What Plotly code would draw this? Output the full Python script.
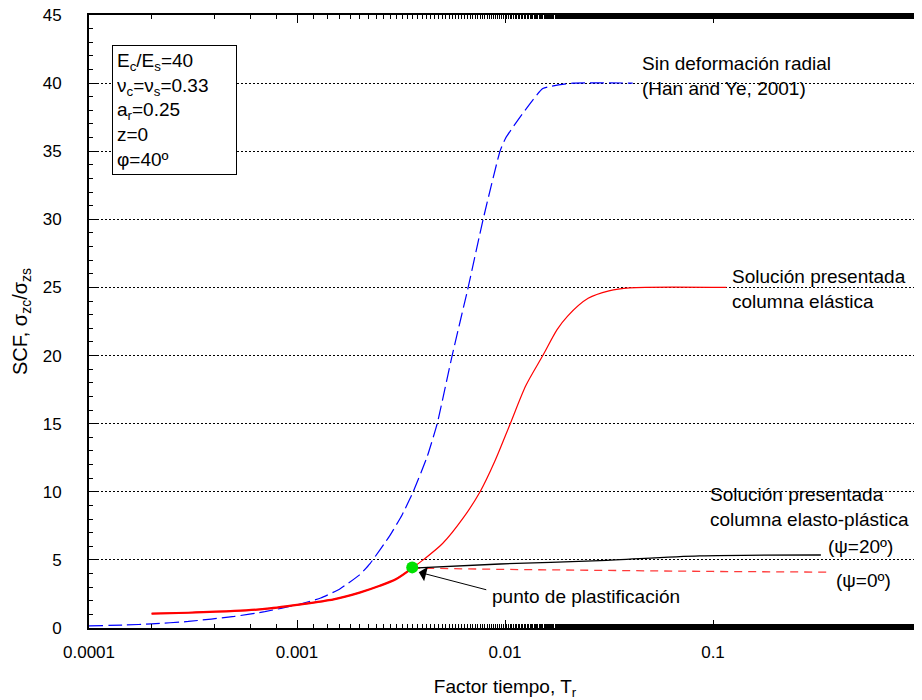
import numpy as np
import plotly.graph_objects as go

# Data
blue_T = [0.0001, 0.00015, 0.0002, 0.0003, 0.0005, 0.0007, 0.001, 0.0013, 0.0016, 0.002, 0.00225,
          0.0028, 0.0032, 0.00362, 0.00423, 0.00472, 0.00557, 0.00665, 0.00785, 0.00946, 0.0101,
          0.0152, 0.0212, 0.0411]
blue_scf = [0.15, 0.22, 0.3, 0.48, 0.85, 1.2, 1.7, 2.2, 2.85, 3.9, 4.75,
            6.8, 8.3, 10.0, 12.6, 15.0, 20.0, 25.0, 30.0, 35.0, 36.0,
            39.6, 40.0, 40.0]

red_T = [0.0002, 0.0003, 0.0005, 0.0007, 0.001, 0.0015, 0.002, 0.0025, 0.003, 0.00358, 0.00404,
         0.00501, 0.00631, 0.00759, 0.00891, 0.0106, 0.0126, 0.0152, 0.0178, 0.02,
         0.0251, 0.0316, 0.0398, 0.116]
red_scf = [1.05, 1.12, 1.25, 1.4, 1.7, 2.1, 2.6, 3.1, 3.6, 4.4, 5.0,
           6.2, 8.1, 10.0, 12.2, 15.0, 17.8, 20.0, 21.9, 22.9,
           24.2, 24.75, 24.97, 25.0]

ep_low_T = [0.0002, 0.0003, 0.0005, 0.0007, 0.001, 0.0015, 0.002, 0.0025, 0.003, 0.00358]
ep_low_scf = [1.05, 1.12, 1.25, 1.4, 1.7, 2.1, 2.6, 3.1, 3.6, 4.4]

psi20_T = [0.00358, 0.00946, 0.0286, 0.086, 0.33]
psi20_scf = [4.4, 4.7, 4.94, 5.29, 5.36]

psi0_T = [0.00358, 0.01, 0.1, 0.36]
psi0_scf = [4.4, 4.3, 4.15, 4.1]

yield_T = [0.00358]
yield_scf = [4.45]

x_tickvals = [0.0001, 0.001, 0.01, 0.1, 1]
x_ticktext = ["0.0001", "0.001", "0.01", "0.1", "1"]
y_tickvals = [0, 5, 10, 15, 20, 25, 30, 35, 40, 45]

FONT = "Liberation Sans, Arial, sans-serif"

fig = go.Figure()
fig.add_trace(go.Scatter(x=blue_T, y=blue_scf, mode="lines",
                         line=dict(color="#0000ff", width=1.2, dash="14px,5px",
                                   shape="spline", smoothing=0.4)))
fig.add_trace(go.Scatter(x=red_T, y=red_scf, mode="lines",
                         line=dict(color="#ff0000", width=1.2, shape="spline", smoothing=0.8)))
fig.add_trace(go.Scatter(x=psi0_T, y=psi0_scf, mode="lines",
                         line=dict(color="#ff3a3a", width=1.3, dash="8px,6px")))
fig.add_trace(go.Scatter(x=psi20_T, y=psi20_scf, mode="lines",
                         line=dict(color="#000000", width=1.3, shape="spline", smoothing=0.8)))
fig.add_trace(go.Scatter(x=ep_low_T, y=ep_low_scf, mode="lines",
                         line=dict(color="#ff0000", width=2.2, shape="spline", smoothing=0.8)))
fig.add_trace(go.Scatter(x=yield_T, y=yield_scf, mode="markers",
                         marker=dict(color="#00e000", size=12)))

ann_font = dict(family=FONT, size=19, color="black")
annotations = [
    dict(x=np.log10(0.0447), y=40.5, text="Sin deformación radial<br>(Han and Ye, 2001)",
         xanchor="left", yanchor="middle", align="left"),
    dict(x=np.log10(0.121), y=24.9, text="Solución presentada<br>columna elástica",
         xanchor="left", yanchor="middle", align="left"),
    dict(x=np.log10(0.0946), y=8.9, text="Solución presentada<br>columna elasto-plástica",
         xanchor="left", yanchor="middle", align="left"),
    dict(x=np.log10(0.349), y=6.0, text="(ψ=20º)", xanchor="left", yanchor="middle"),
    dict(x=np.log10(0.382), y=3.5, text="(ψ=0º)", xanchor="left", yanchor="middle"),
    dict(x=np.log10(0.0085), y=2.3, text="punto de plastificación", xanchor="left", yanchor="middle"),
]
for a in annotations:
    a.update(xref="x", yref="y", showarrow=False, font=ann_font)
    fig.add_annotation(**a)

# arrow to yield point
fig.add_annotation(x=np.log10(0.00385), y=4.1, xref="x", yref="y", text="",
                   showarrow=True, ax=69, ay=18, arrowhead=1, arrowsize=2.5,
                   arrowwidth=1, arrowcolor="black")

# parameter box
fig.add_annotation(x=0.0276, y=0.951, xref="paper", yref="paper",
                   xanchor="left", yanchor="top", align="left", showarrow=False,
                   text="E<sub>c</sub>/E<sub>s</sub>=40<br>ν<sub>c</sub>=ν<sub>s</sub>=0.33<br>"
                        "a<sub>r</sub>=0.25<br>z=0<br>φ=40º",
                   width=115,
                   font=dict(family=FONT, size=19, color="black"),
                   bgcolor="white", bordercolor="black", borderwidth=1, borderpad=4)

# page body has an 8px default margin, so the figure is sized to fit the window
fig.update_layout(
    width=914, height=692,
    margin=dict(l=81, r=1, t=7, b=72),
    paper_bgcolor="white", plot_bgcolor="white",
    showlegend=False,
    font=dict(family=FONT, size=17, color="black"),
)
fig.update_xaxes(type="log", range=[-4, 0], tickvals=x_tickvals, ticktext=x_ticktext,
                 automargin=False, ticklabelstandoff=8, ticklabeloverflow="allow",
                 ticks="inside", ticklen=8, tickwidth=1, tickcolor="black",
                 minor=dict(ticks="inside", ticklen=4, tickcolor="black", showgrid=False),
                 showline=True, linecolor="black", linewidth=2, mirror="allticks",
                 showgrid=False, zeroline=False,
                 title=dict(text="Factor tiempo, T<sub>r</sub>", font=dict(size=19), standoff=18))
fig.update_yaxes(range=[0, 45], tickvals=y_tickvals,
                 automargin=False, ticklabelstandoff=22, ticklabeloverflow="allow",
                 ticks="inside", ticklen=8, tickwidth=1, tickcolor="black",
                 minor=dict(dtick=1, ticks="inside", ticklen=4, tickcolor="black", showgrid=False),
                 showline=True, linecolor="black", linewidth=2, mirror="allticks",
                 showgrid=True, gridcolor="black", griddash="2px,2px", gridwidth=1,
                 zeroline=False,
                 title=dict(text="SCF, σ<sub>zc</sub>/σ<sub>zs</sub>", font=dict(size=20), standoff=10))

fig.write_html("out.html")
